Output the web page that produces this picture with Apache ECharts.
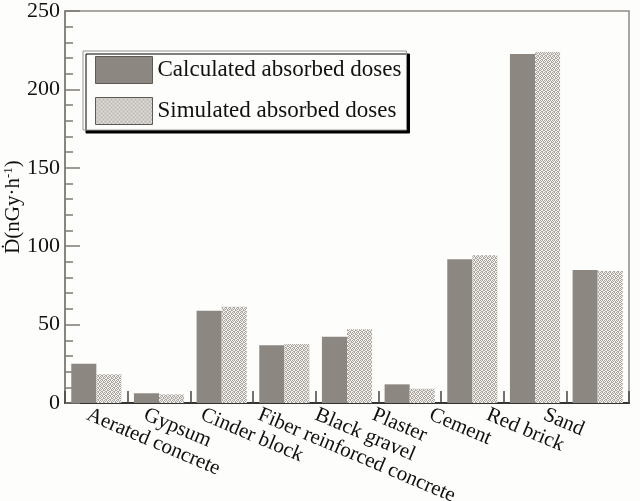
<!DOCTYPE html>
<html>
<head>
<meta charset="utf-8">
<script src="https://cdn.jsdelivr.net/npm/echarts@6/dist/echarts.min.js"></script>
<style>html,body{margin:0;padding:0;background:#fdfdfb;}#c{width:640px;height:501px;}</style>
</head>
<body>
<div id="c"></div>
<script>
const categories = ['Aerated concrete','Gypsum','Cinder block','Fiber reinforced concrete','Black gravel','Plaster','Cement','Red brick','Sand'];
const calculated = [25, 6.2, 58.9, 36.8, 42.3, 11.9, 91.6, 222.6, 84.8];
const simulated = [18.3, 5.5, 61.4, 37.6, 47, 9.1, 94.2, 223.9, 84.2];
const yTicks = [0, 50, 100, 150, 200, 250];

function makePattern() {
  const c = document.createElement('canvas');
  c.width = 4; c.height = 4;
  const ctx = c.getContext('2d');
  ctx.fillStyle = '#f3f1ee';
  ctx.fillRect(0, 0, 4, 4);
  ctx.fillStyle = '#aaa49f';
  const pts = [[0,0],[2,0],[1,1],[3,1],[0,2],[3,2],[1,3],[2,3]];
  pts.forEach(p => ctx.fillRect(p[0], p[1], 1, 1));
  return c;
}
const pattern = { image: makePattern(), repeat: 'repeat' };
const serif = "'Liberation Serif','DejaVu Serif',serif";

const chart = echarts.init(document.getElementById('c'), null, {renderer: 'canvas'});
chart.setOption({
  backgroundColor: '#fdfdfb',
  animation: false,
  grid: [
    {left: 65, right: 11, top: 11, bottom: 98, show: true, borderColor: '#8e8984', borderWidth: 1.5,
     backgroundColor: 'transparent', containLabel: false, outerBoundsMode: 'none'},
    {left: 59, width: 514, top: 11, bottom: 98, show: false, containLabel: false, outerBoundsMode: 'none'}
  ],
  legend: {
    orient: 'vertical',
    left: 83, top: 51,
    padding: [5, 5, 5, 12],
    itemGap: 13,
    itemWidth: 57, itemHeight: 27,
    icon: 'rect',
    backgroundColor: '#fdfdfb',
    borderColor: '#9a9590', borderWidth: 1,
    shadowColor: '#000', shadowOffsetX: 3, shadowOffsetY: 3, shadowBlur: 0,
    itemStyle: {borderColor: '#5e5954', borderWidth: 1},
    textStyle: {fontFamily: serif, fontSize: 23, color: '#111'},
    data: ['Calculated absorbed doses', 'Simulated absorbed doses']
  },
  xAxis: [
    {
      type: 'category', gridIndex: 0, data: categories,
      axisLine: {lineStyle: {color: '#333', width: 2}},
      axisTick: {show: true, inside: true, interval: 0, length: 12, lineStyle: {color: '#444', width: 1.5}},
      axisLabel: {show: false, interval: 0}
    },
    {
      type: 'category', gridIndex: 1, data: categories,
      axisLine: {show: false}, axisTick: {show: false},
      axisLabel: {rotate: -23, margin: 11, fontFamily: serif, fontSize: 21, color: '#111', interval: 0}
    }
  ],
  yAxis: [
    {
      type: 'value', gridIndex: 0, min: 0, max: 250, interval: 50,
      name: 'Ḋ(nGy·h{sup|-1})',
      nameLocation: 'middle', nameRotate: 90, nameGap: 40, nameMoveOverlap: false,
      nameTextStyle: {fontFamily: serif, fontSize: 21, color: '#111',
        rich: {sup: {fontFamily: serif, fontSize: 13, color: '#111', verticalAlign: 'top', padding: [0,0,10,0]}}},
      axisLine: {show: true, lineStyle: {color: '#7d7873', width: 1.5}},
      axisTick: {show: true, inside: true, length: 15, lineStyle: {color: '#7d7873', width: 1.5}},
      minorTick: {show: true, splitNumber: 5, length: 8, lineStyle: {color: '#7d7873', width: 1.5}},
      splitLine: {show: false},
      axisLabel: {fontFamily: serif, fontSize: 22, color: '#111', margin: 5,
        formatter: v => yTicks.includes(v) ? String(v) : ''}
    },
    {type: 'value', gridIndex: 1, show: false, min: 0, max: 250}
  ],
  series: [
    {
      name: 'Calculated absorbed doses', type: 'bar', xAxisIndex: 0, yAxisIndex: 0,
      data: calculated, barGap: '0%', barCategoryGap: '20%',
      itemStyle: {color: '#8d8782'}
    },
    {
      name: 'Simulated absorbed doses', type: 'bar', xAxisIndex: 0, yAxisIndex: 0,
      data: simulated, barGap: '0%', barCategoryGap: '20%',
      itemStyle: {color: pattern}
    }
  ]
});
</script>
</body>
</html>
